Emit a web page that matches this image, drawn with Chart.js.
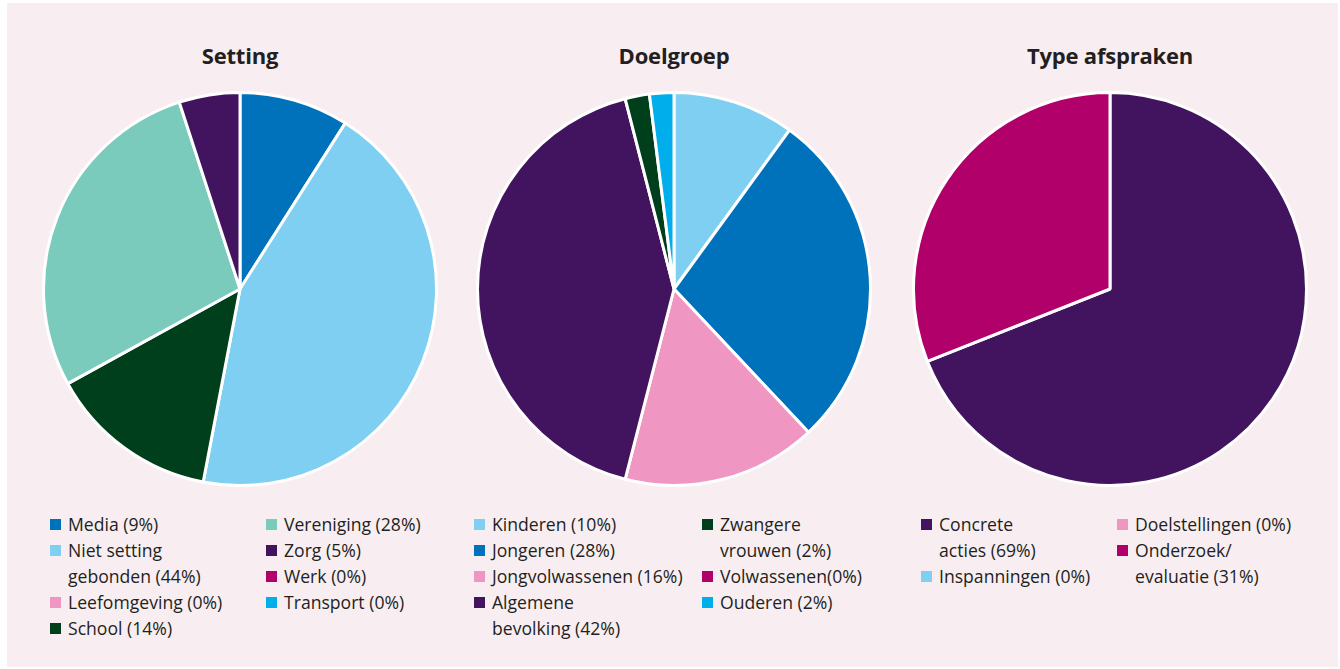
<!DOCTYPE html>
<html lang="nl">
<head>
<meta charset="utf-8">
<script src="https://cdn.jsdelivr.net/npm/chart.js@4/dist/chart.umd.min.js"></script>
<style>
  html, body { margin: 0; padding: 0; background: #fff; }
  body { width: 1340px; height: 669px; position: relative; overflow: hidden; font-family: "Open Sans", "Noto Sans", sans-serif; color: #231f20; }
  .panel { position: absolute; left: 7px; top: 3px; width: 1331px; height: 664px; background: #f8eef2; }
  .title { position: absolute; top: 40px; width: 400px; text-align: center; font-weight: 700; font-size: 22px; letter-spacing: -0.2px; }
  canvas { position: absolute; }
  .col { position: absolute; top: 511px; font-size: 17.6px; line-height: 26px; }
  .item { position: relative; padding-left: 18px; white-space: nowrap; }
  .item i { position: absolute; left: 0; top: 8px; width: 11px; height: 11px; }
</style>
</head>
<body>
<div class="panel"></div>
<div id="root"></div>
<script>
// kleuren
const kleur = {
  blauw: '#0071bb',
  lichtblauw: '#7fcff2',
  roze: '#f096c2',
  donkergroen: '#003f1b',
  mint: '#7bcbbd',
  paars: '#42145f',
  violet: '#b1006a',
  cyaan: '#00aeeb'
};

// Setting
const settingLabels = ['Media (9%)', 'Niet setting\ngebonden (44%)', 'Leefomgeving (0%)', 'School (14%)',
  'Vereniging (28%)', 'Zorg (5%)', 'Werk (0%)', 'Transport (0%)'];
const settingValues = [9, 44, 0, 14, 28, 5, 0, 0];
const settingColors = [kleur.blauw, kleur.lichtblauw, kleur.roze, kleur.donkergroen, kleur.mint, kleur.paars, kleur.violet, kleur.cyaan];

// Doelgroep
const doelgroepLabels = ['Kinderen (10%)', 'Jongeren (28%)', 'Jongvolwassenen (16%)', 'Algemene\nbevolking (42%)',
  'Zwangere\nvrouwen (2%)', 'Volwassenen(0%)', 'Ouderen (2%)'];
const doelgroepValues = [10, 28, 16, 42, 2, 0, 2];
const doelgroepColors = [kleur.lichtblauw, kleur.blauw, kleur.roze, kleur.paars, kleur.donkergroen, kleur.violet, kleur.cyaan];

// Type afspraken
const typeLabels = ['Concrete\nacties (69%)', 'Inspanningen (0%)', 'Doelstellingen (0%)', 'Onderzoek/\nevaluatie (31%)'];
const typeValues = [69, 0, 0, 31];
const typeColors = [kleur.paars, kleur.lichtblauw, kleur.roze, kleur.violet];

const taarten = [
  { titel: 'Setting', cx: 240, labels: settingLabels, values: settingValues, colors: settingColors, cols: [50, 266] },
  { titel: 'Doelgroep', cx: 674, labels: doelgroepLabels, values: doelgroepValues, colors: doelgroepColors, cols: [474, 702] },
  { titel: 'Type afspraken', cx: 1110, labels: typeLabels, values: typeValues, colors: typeColors, cols: [921, 1117] }
];

const root = document.getElementById('root');

taarten.forEach(function(t) {
  let title = document.createElement('div');
  title.className = 'title';
  title.style.left = (t.cx - 200) + 'px';
  title.textContent = t.titel;
  root.append(title);

  let c = document.createElement('canvas');
  c.width = 400;
  c.height = 400;
  c.style.left = (t.cx - 200) + 'px';
  c.style.top = '89px';
  root.append(c);

  new Chart(c.getContext('2d'), {
    type: 'pie',
    data: {
      labels: t.labels.map(l => l.replace('\n', ' ')),
      datasets: [{
        data: t.values,
        backgroundColor: t.colors,
        borderColor: '#ffffff',
        borderWidth: 3
      }]
    },
    options: {
      responsive: false,
      animation: false,
      layout: { padding: 2 },
      plugins: { legend: { display: false }, tooltip: { enabled: false } }
    }
  });

  // legenda in twee kolommen
  let half = Math.ceil(t.labels.length / 2);
  [t.labels.slice(0, half), t.labels.slice(half)].forEach(function(part, k) {
    let col = document.createElement('div');
    col.className = 'col';
    col.style.left = t.cols[k] + 'px';
    part.forEach(function(txt, i) {
      let idx = k * half + i;
      let item = document.createElement('div');
      item.className = 'item';
      item.innerHTML = '<i style="background:' + t.colors[idx] + '"></i>' + txt.replace('\n', '<br>');
      col.append(item);
    });
    root.append(col);
  });
});
</script>
</body>
</html>
